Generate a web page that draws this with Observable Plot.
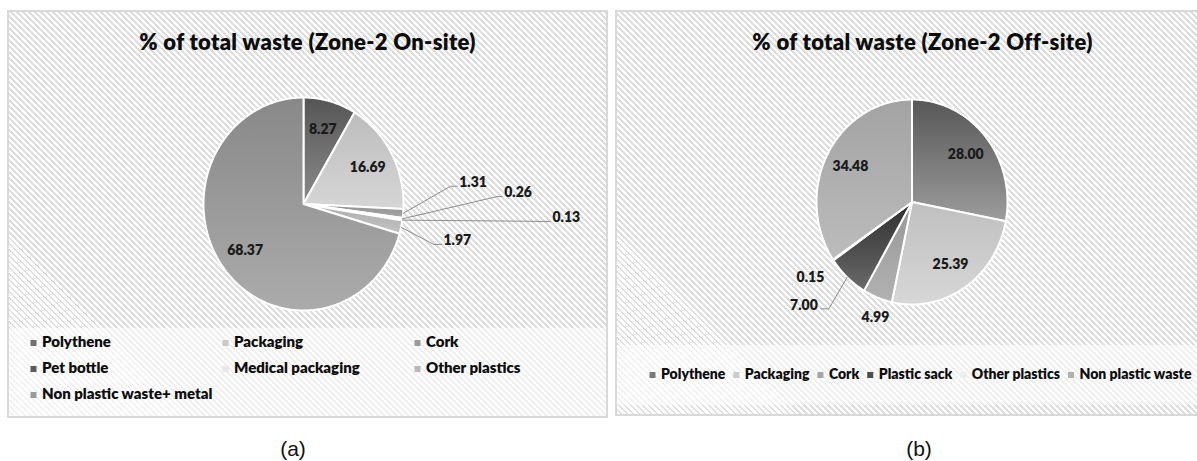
<!DOCTYPE html>
<html>
<head>
<meta charset="utf-8">
<script src="https://cdn.jsdelivr.net/npm/d3@7"></script>
<script src="https://cdn.jsdelivr.net/npm/@observablehq/plot@0.6"></script>
<style>
  html, body { margin: 0; padding: 0; background: #ffffff; }
  #page { position: relative; width: 1197px; height: 461px; overflow: hidden; background: #ffffff; }
  .panel {
    position: absolute; box-sizing: border-box; border: 2px solid #d9d9d9;
    background-color: #ffffff;
    background-image: repeating-linear-gradient(45deg, #ffffff 0px, #ffffff 2.2px, #dedede 2.2px, #dedede 4.24px);
  }
  .veil { position: absolute; background: rgba(255,255,255,0.55); }
  .abs { position: absolute; left: 0; top: 0; }
</style>
</head>
<body>
<div id="page">
  <div class="panel" style="left:7px;top:10px;width:601px;height:408px"></div>
  <div class="panel" style="left:615px;top:10px;width:620px;height:406px"></div>
  <div class="veil" style="left:9px;top:328px;width:597px;height:88px"></div>
  <div class="veil" style="left:617px;top:345px;width:580px;height:60px"></div>
</div>
<script>
// ---------------- data ----------------
const leftTitle = "% of total waste (Zone-2 On-site)";
const leftNames = ["Polythene", "Packaging", "Cork", "Pet bottle", "Medical packaging", "Other plastics", "Non plastic waste+ metal"];
const leftValues = [8.27, 16.69, 1.31, 0.26, 0.13, 1.97, 68.37];

const rightTitle = "% of total waste (Zone-2 Off-site)";
const rightNames = ["Polythene", "Packaging", "Cork", "Plastic sack", "Other plastics", "Non plastic waste"];
const rightValues = [28.00, 25.39, 4.99, 7.00, 0.15, 34.48];

const captions = ["(a)", "(b)"];

// ---------------- styles / layout ----------------
const leftShades = [["#555555", "#8c8c8c"], ["#bdbdbd", "#d6d6d6"], ["#8f8f8f", "#a8a8a8"], ["#484848", "#6c6c6c"], ["#e2e2e2", "#eeeeee"], ["#adadad", "#c2c2c2"], ["#888888", "#ababab"]];
const rightShades = [["#575757", "#9c9c9c"], ["#bfbfbf", "#d7d7d7"], ["#979797", "#b2b2b2"], ["#2e2e2e", "#6a6a6a"], ["#e8e8e8", "#f2f2f2"], ["#a3a3a3", "#bcbcbc"]];

// callout label layout (normalised pie coordinates, pixel tails)
const leftCallouts = {
  "Cork": {ex: 1.47, ey: 0.167, tail: 6.7, leader: true},
  "Pet bottle": {ex: 1.937, ey: 0.070, tail: 5, leader: true},
  "Medical packaging": {ex: 2.47, ey: -0.164, tail: 0, leader: true},
  "Other plastics": {ex: 1.303, ey: -0.380, tail: 7.7, leader: true}
};
const rightCallouts = {
  "Cork": {ex: -0.383, ey: -1.127, leader: false},
  "Plastic sack": {ex: -0.871, ey: -1.042, tail: -8, leader: true},
  "Other plastics": {ex: -1.063, ey: -0.737, leader: false}
};

const FONT = "Lato, 'Open Sans', sans-serif";
const WEIGHT = 800;

function piePlot({names, values, shades, idPrefix, width, height, cx, cy, rx, ry, callouts}) {
  const items = names.map((name, i) => ({name, value: values[i]}));
  const arcs = d3.pie().sort(null).value(d => d.value)(items);
  const polys = [];
  const inside = [];
  const leaders = [];
  const outStart = [], outEnd = [], outMid = [];
  arcs.forEach(a => {
    const name = a.data.name;
    polys.push({name, x: 0, y: 0});
    const n = Math.max(2, Math.ceil((a.endAngle - a.startAngle) / (Math.PI / 180)));
    for (let k = 0; k <= n; k++) {
      const t = a.startAngle + (a.endAngle - a.startAngle) * k / n;
      polys.push({name, x: Math.sin(t), y: Math.cos(t)});
    }
    const mid = (a.startAngle + a.endAngle) / 2;
    const label = a.data.value.toFixed(2);
    const c = callouts[name];
    if (!c) {
      inside.push({x: 0.73 * Math.sin(mid), y: 0.73 * Math.cos(mid), label});
    } else if (c.leader) {
      const endX = c.ex + c.tail / rx;
      leaders.push({name, x: Math.sin(mid), y: Math.cos(mid)});
      leaders.push({name, x: c.ex, y: c.ey});
      leaders.push({name, x: endX, y: c.ey});
      (c.tail < 0 ? outEnd : outStart).push({x: endX, y: c.ey, label});
    } else {
      outMid.push({x: c.ex, y: c.ey, label});
    }
  });
  const txt = {x: "x", y: "y", text: "label", fontSize: 14, fontWeight: WEIGHT, fontFamily: FONT, fill: "#1a1a1a"};
  const svg = Plot.plot({
    width, height, margin: 0,
    x: {domain: [-1, 1], range: [cx - rx, cx + rx], axis: null},
    y: {domain: [-1, 1], range: [cy + ry, cy - ry], axis: null},
    color: {type: "ordinal", domain: names, range: names.map((_, i) => `url(#${idPrefix}${i})`)},
    style: {background: "transparent", overflow: "visible"},
    marks: [
      Plot.line(polys, {x: "x", y: "y", z: "name", fill: "name", stroke: "#ffffff", strokeWidth: 2, curve: "linear-closed", strokeLinejoin: "round"}),
      Plot.line(leaders, {x: "x", y: "y", z: "name", stroke: "#8c8c8c", strokeWidth: 1, curve: "linear"}),
      Plot.text(inside, txt),
      Plot.text(outStart, {...txt, textAnchor: "start", dx: 2, dy: -4}),
      Plot.text(outEnd, {...txt, textAnchor: "end", dx: -3, dy: -3}),
      Plot.text(outMid, {...txt, textAnchor: "middle"})
    ]
  });
  const defs = d3.select(svg).insert("defs", ":first-child");
  shades.forEach(([a, b], i) => {
    const g = defs.append("linearGradient").attr("id", idPrefix + i)
      .attr("x1", 0).attr("y1", 0).attr("x2", 0).attr("y2", 1);
    g.append("stop").attr("offset", "0%").attr("stop-color", a);
    g.append("stop").attr("offset", "100%").attr("stop-color", b);
  });
  return svg;
}

const page = document.getElementById("page");

const leftSvg = piePlot({names: leftNames, values: leftValues, shades: leftShades, idPrefix: "gl",
  width: 608, height: 420, cx: 303, cy: 203.5, rx: 100, ry: 106.5, callouts: leftCallouts});
leftSvg.classList.add("abs");
leftSvg.style.left = "0px";
page.appendChild(leftSvg);

const rightSvg = piePlot({names: rightNames, values: rightValues, shades: rightShades, idPrefix: "gr",
  width: 589, height: 420, cx: 303.5, cy: 201.5, rx: 95.5, ry: 102.5, callouts: rightCallouts});
rightSvg.classList.add("abs");
rightSvg.style.left = "608px";
page.appendChild(rightSvg);

// ---------------- text overlay: titles, legends, captions ----------------
const ov = d3.select(page).append("svg").attr("class", "abs")
  .attr("width", 1197).attr("height", 461).style("pointer-events", "none");

function title(text, cx) {
  ov.append("text").attr("x", cx).attr("y", 50).attr("text-anchor", "middle")
    .attr("font-family", FONT).attr("font-weight", WEIGHT).attr("font-size", 22)
    .attr("letter-spacing", 0.3).attr("fill", "#0d0d0d").text(text);
}
title(leftTitle, 307.5);
title(rightTitle, 922.5);

const mid = ([a, b]) => d3.interpolateRgb(a, b)(0.5);

// left legend: 3-column grid
leftNames.forEach((name, i) => {
  const col = i % 3, row = Math.floor(i / 3);
  const mx = 33.5 + col * 192, by = 347 + row * 26;
  ov.append("rect").attr("x", mx - 3).attr("y", by - 7).attr("width", 6).attr("height", 6).attr("fill", mid(leftShades[i]));
  ov.append("text").attr("x", mx + 8.5).attr("y", by)
    .attr("font-family", FONT).attr("font-weight", WEIGHT).attr("font-size", 15)
    .attr("fill", "#0d0d0d").text(name);
});

// right legend: single centred row fitted to the legend span
{
  const g = ov.append("g");
  const gap = 11, pad = 8.5;
  const spanLeft = 649.5, spanRight = 1192;
  const texts = rightNames.map(name => g.append("text").attr("y", 379)
    .attr("font-family", FONT).attr("font-weight", WEIGHT).attr("font-size", 15)
    .attr("fill", "#0d0d0d").text(name));
  const sumW = d3.sum(texts, t => t.node().getComputedTextLength());
  const avail = (spanRight - spanLeft) - rightNames.length * pad - (rightNames.length - 1) * gap - 3;
  const fs = Math.min(15, 15 * avail / sumW);
  texts.forEach(t => t.attr("font-size", fs));
  let x = spanLeft + 3;
  rightNames.forEach((name, i) => {
    g.append("rect").attr("x", x - 3).attr("y", 379 - 7).attr("width", 6).attr("height", 6).attr("fill", mid(rightShades[i]));
    texts[i].attr("x", x + pad);
    x += pad + texts[i].node().getComputedTextLength() + gap;
  });
}

// captions
[[captions[0], 293], [captions[1], 919]].forEach(([t, x]) => {
  ov.append("text").attr("x", x).attr("y", 456).attr("text-anchor", "middle")
    .attr("font-family", "'Liberation Sans', Arial, sans-serif").attr("font-size", 21)
    .attr("fill", "#111").text(t);
});
</script>
</body>
</html>
